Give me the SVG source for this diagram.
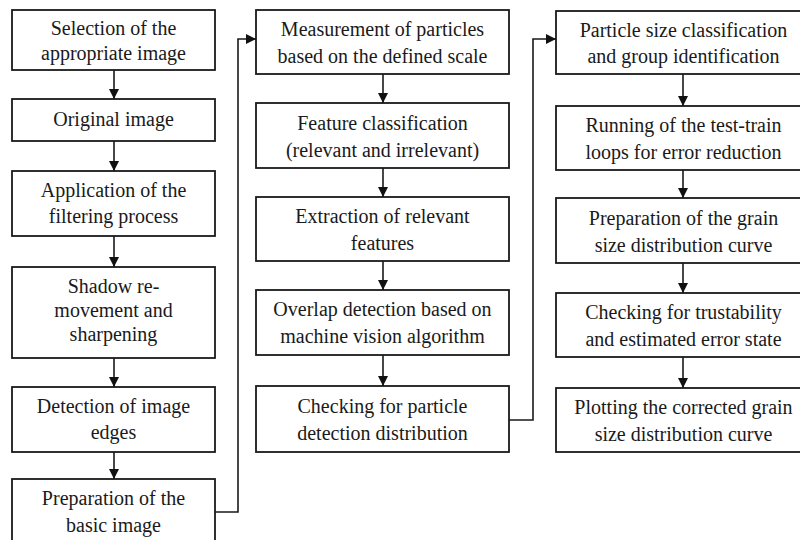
<svg xmlns="http://www.w3.org/2000/svg" width="800" height="540" viewBox="0 0 800 540">
<defs>
<marker id="ah" viewBox="0 0 10 10" refX="10" refY="5" markerWidth="10" markerHeight="10" markerUnits="userSpaceOnUse" orient="auto">
<path d="M0,0 L10,5 L0,10 Z" fill="#111"/>
</marker>
<style>
.box{fill:#fff;stroke:#1a1a1a;stroke-width:1.8}
.t{font-size:20px;fill:#1a1a1a;text-anchor:middle}
.c{fill:none;stroke:#1a1a1a;stroke-width:1.6;marker-end:url(#ah)}
</style>
</defs>
<rect width="800" height="540" fill="#fff"/>
<g id="nodes" font-family="Liberation Serif, Times New Roman, serif">
<g id="n1"><rect class="box" x="12" y="10" width="203" height="60"/><text class="t" x="113.5" y="35">Selection of the</text><text class="t" x="113.5" y="60">appropriate image</text></g>
<g id="n2"><rect class="box" x="12" y="99" width="203" height="42"/><text class="t" x="113.5" y="126">Original image</text></g>
<g id="n3"><rect class="box" x="12" y="171" width="203" height="65"/><text class="t" x="113.5" y="197">Application of the</text><text class="t" x="113.5" y="223">filtering process</text></g>
<g id="n4"><rect class="box" x="12" y="267" width="203" height="91"/><text class="t" x="113.5" y="293">Shadow re-</text><text class="t" x="113.5" y="317">movement and</text><text class="t" x="113.5" y="341">sharpening</text></g>
<g id="n5"><rect class="box" x="12" y="387" width="203" height="65"/><text class="t" x="113.5" y="413">Detection of image</text><text class="t" x="113.5" y="439">edges</text></g>
<g id="n6"><rect class="box" x="12" y="479" width="203" height="66"/><text class="t" x="113.5" y="505">Preparation of the</text><text class="t" x="113.5" y="532">basic image</text></g>

<g id="n7"><rect class="box" x="256" y="10" width="253" height="64"/><text class="t" x="382.5" y="36">Measurement of particles</text><text class="t" x="382.5" y="63">based on the defined scale</text></g>
<g id="n8"><rect class="box" x="256" y="103" width="253" height="65"/><text class="t" x="382.5" y="130">Feature classification</text><text class="t" x="382.5" y="157">(relevant and irrelevant)</text></g>
<g id="n9"><rect class="box" x="256" y="197" width="253" height="64"/><text class="t" x="382.5" y="223">Extraction of relevant</text><text class="t" x="382.5" y="250">features</text></g>
<g id="n10"><rect class="box" x="256" y="290" width="253" height="65"/><text class="t" x="382.5" y="316">Overlap detection based on</text><text class="t" x="382.5" y="343">machine vision algorithm</text></g>
<g id="n11"><rect class="box" x="256" y="386" width="253" height="66"/><text class="t" x="382.5" y="413">Checking for particle</text><text class="t" x="382.5" y="440">detection distribution</text></g>

<g id="n12"><rect class="box" x="556" y="11" width="255" height="63"/><text class="t" x="683.5" y="37">Particle size classification</text><text class="t" x="683.5" y="63">and group identification</text></g>
<g id="n13"><rect class="box" x="556" y="106" width="255" height="64"/><text class="t" x="683.5" y="132">Running of the test-train</text><text class="t" x="683.5" y="159">loops for error reduction</text></g>
<g id="n14"><rect class="box" x="556" y="198" width="255" height="65"/><text class="t" x="683.5" y="225">Preparation of the grain</text><text class="t" x="683.5" y="252">size distribution curve</text></g>
<g id="n15"><rect class="box" x="556" y="293" width="255" height="64"/><text class="t" x="683.5" y="319">Checking for trustability</text><text class="t" x="683.5" y="346">and estimated error state</text></g>
<g id="n16"><rect class="box" x="556" y="388" width="255" height="64"/><text class="t" x="683.5" y="414">Plotting the corrected grain</text><text class="t" x="683.5" y="441">size distribution curve</text></g>
</g>

<g id="connectors">
<path class="c" d="M114,70 V99"/>
<path class="c" d="M114,141 V171"/>
<path class="c" d="M114,236 V267"/>
<path class="c" d="M114,358 V387"/>
<path class="c" d="M114,452 V479"/>
<path class="c" d="M215,512 H238 V39 H256"/>
<path class="c" d="M383,74 V103"/>
<path class="c" d="M383,168 V197"/>
<path class="c" d="M383,261 V290"/>
<path class="c" d="M383,355 V386"/>
<path class="c" d="M509,420 H533 V39 H556"/>
<path class="c" d="M683,74 V106"/>
<path class="c" d="M683,170 V198"/>
<path class="c" d="M683,263 V293"/>
<path class="c" d="M683,357 V388"/>
</g>
</svg>
